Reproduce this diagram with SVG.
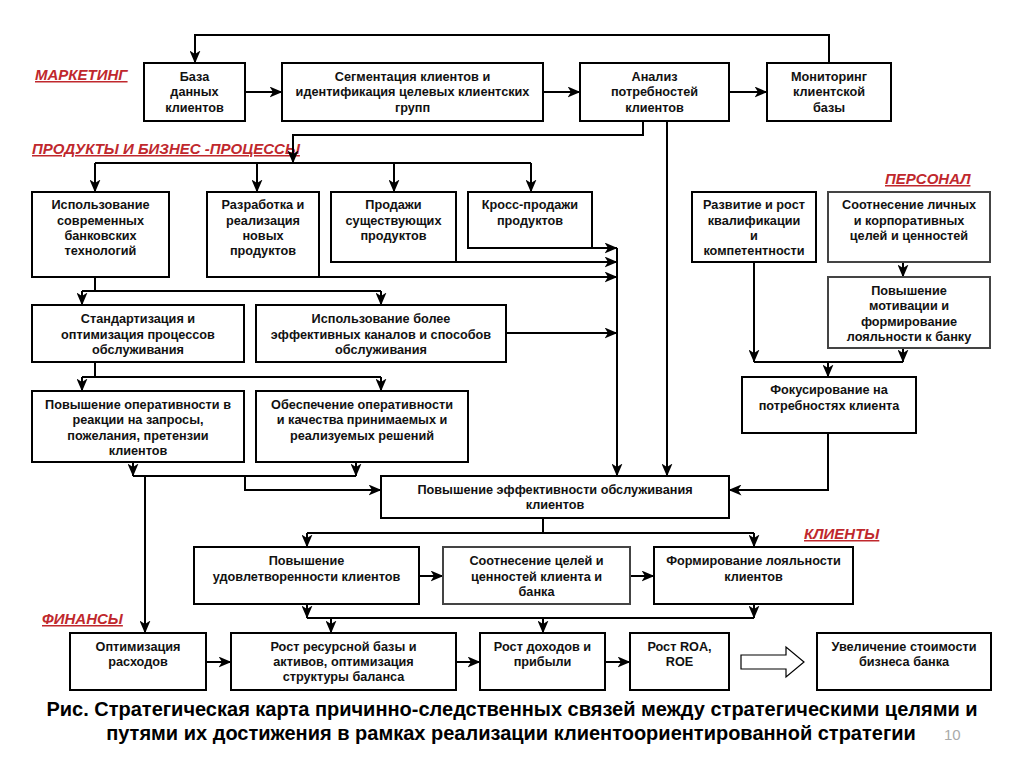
<svg xmlns="http://www.w3.org/2000/svg" width="1024" height="768" viewBox="0 0 1024 768">
<defs>
<marker id="ah" markerUnits="userSpaceOnUse" markerWidth="13" markerHeight="11" viewBox="0 0 13 11" refX="12.5" refY="5.5" orient="auto">
<path d="M0,0 L13,5.5 L0,11 L3.5,5.5 z" fill="#000"/>
</marker>
</defs>
<style>
rect.b{fill:#fff;stroke:#000;stroke-width:2}
rect.g{fill:#fff;stroke:#444;stroke-width:2}
text{font-family:"Liberation Sans",Arial,sans-serif;font-weight:bold;font-size:12.7px;fill:#111;text-anchor:middle}
text.lab{font-size:15px;font-style:italic;fill:#c0282d;text-decoration:underline;text-anchor:start}
text.cap{font-size:20px;fill:#000}
text.pg{font-size:15px;font-weight:normal;fill:#aaa;text-anchor:start}
#conn path{fill:none;stroke:#000;stroke-width:2}
#conn path.a{marker-end:url(#ah)}
</style>
<rect width="1024" height="768" fill="#fff"/>
<text class="lab" x="35" y="80">МАРКЕТИНГ</text>
<text class="lab" x="32" y="154">ПРОДУКТЫ И БИЗНЕС -ПРОЦЕССЫ</text>
<text class="lab" x="885" y="184">ПЕРСОНАЛ</text>
<text class="lab" x="804" y="539">КЛИЕНТЫ</text>
<text class="lab" x="42" y="624">ФИНАНСЫ</text>

<g id="conn">
<path class="a" d="M829,63 V35 H195 V63"/>
<path class="a" d="M245,92 H282"/>
<path class="a" d="M543,92 H580"/>
<path class="a" d="M729,92 H767"/>
<path class="a" d="M643,121 V135 H293 V163"/>
<path d="M95,163 H531"/>
<path class="a" d="M95,163 V192"/>
<path class="a" d="M257,163 V192"/>
<path class="a" d="M394,163 V192"/>
<path class="a" d="M531,163 V192"/>
<path class="a" d="M667,121 V476"/>
<path class="a" d="M592,248 H617"/>
<path class="a" d="M456,262 H617"/>
<path class="a" d="M319,277 H617"/>
<path class="a" d="M506,333 H617"/>
<path class="a" d="M617,248 V476"/>
<path d="M95,277 V291 M82,291 H381"/>
<path class="a" d="M82,291 V305"/>
<path class="a" d="M381,291 V305"/>
<path d="M95,362 V377 M82,377 H381"/>
<path class="a" d="M82,377 V391"/>
<path class="a" d="M381,377 V391"/>
<path class="a" d="M133,462 V476"/>
<path class="a" d="M356,462 V476"/>
<path d="M133,476 H356"/>
<path class="a" d="M145,476 V633"/>
<path class="a" d="M245,476 V490 H381"/>
<path class="a" d="M903,262 V277"/>
<path class="a" d="M754,262 V362"/>
<path class="a" d="M903,348 V362"/>
<path d="M754,362 H903"/>
<path class="a" d="M828,362 V377"/>
<path class="a" d="M828,433 V490 H729"/>
<path d="M543,518 V533 M307,533 H754"/>
<path class="a" d="M307,533 V547"/>
<path class="a" d="M754,533 V547"/>
<path class="a" d="M419,576 H443"/>
<path class="a" d="M630,576 H654"/>
<path class="a" d="M307,604 V618"/>
<path class="a" d="M754,604 V618"/>
<path d="M307,618 H754"/>
<path class="a" d="M331,618 V633"/>
<path class="a" d="M543,618 V633"/>
<path class="a" d="M206,662 H231"/>
<path class="a" d="M456,662 H480"/>
<path class="a" d="M605,662 H630"/>
</g>
<polygon points="741,655 786,655 786,647 804,662 786,677 786,669 741,669" fill="#fff" stroke="#000" stroke-width="1.2"/>

<g id="n1"><rect class="b" x="144" y="63" width="101" height="58"/><text x="194.5" y="81">База</text><text x="194.5" y="96">данных</text><text x="194.5" y="112">клиентов</text></g>
<g id="n2"><rect class="b" x="282" y="63" width="261" height="58"/><text x="412.5" y="81">Сегментация клиентов и</text><text x="412.5" y="96">идентификация целевых клиентских</text><text x="412.5" y="112">групп</text></g>
<g id="n3"><rect class="b" x="580" y="63" width="149" height="58"/><text x="654.5" y="81">Анализ</text><text x="654.5" y="96">потребностей</text><text x="654.5" y="112">клиентов</text></g>
<g id="n4"><rect class="b" x="767" y="63" width="124" height="58"/><text x="829" y="81">Мониторинг</text><text x="829" y="96">клиентской</text><text x="829" y="112">базы</text></g>

<g id="n5"><rect class="b" x="32" y="192" width="137" height="85"/><text x="100.5" y="209">Использование</text><text x="100.5" y="225">современных</text><text x="100.5" y="240">банковских</text><text x="100.5" y="255">технологий</text></g>
<g id="n6"><rect class="b" x="207" y="192" width="112" height="85"/><text x="263" y="209">Разработка и</text><text x="263" y="225">реализация</text><text x="263" y="240">новых</text><text x="263" y="255">продуктов</text></g>
<g id="n7"><rect class="b" x="331" y="192" width="125" height="70"/><text x="393.5" y="209">Продажи</text><text x="393.5" y="225">существующих</text><text x="393.5" y="240">продуктов</text></g>
<g id="n8"><rect class="b" x="468" y="192" width="124" height="56"/><text x="530" y="209">Кросс-продажи</text><text x="530" y="225">продуктов</text></g>

<g id="n9"><rect class="b" x="692" y="192" width="124" height="70"/><text x="754" y="209">Развитие и рост</text><text x="754" y="225">квалификации</text><text x="754" y="240">и</text><text x="754" y="255">компетентности</text></g>
<g id="n10"><rect class="g" x="828" y="192" width="162" height="70"/><text x="909" y="209">Соотнесение личных</text><text x="909" y="225">и корпоративных</text><text x="909" y="240">целей и ценностей</text></g>
<g id="n11"><rect class="g" x="828" y="277" width="162" height="71"/><text x="909" y="295">Повышение</text><text x="909" y="310">мотивации и</text><text x="909" y="326">формирование</text><text x="909" y="341">лояльности к банку</text></g>

<g id="n12"><rect class="b" x="32" y="305" width="212" height="57"/><text x="138" y="323">Стандартизация и</text><text x="138" y="339">оптимизация процессов</text><text x="138" y="354">обслуживания</text></g>
<g id="n13"><rect class="b" x="256" y="305" width="250" height="57"/><text x="381" y="323">Использование более</text><text x="381" y="339">эффективных каналов и способов</text><text x="381" y="354">обслуживания</text></g>

<g id="n14"><rect class="b" x="32" y="391" width="212" height="71"/><text x="138" y="409">Повышение оперативности в</text><text x="138" y="424">реакции на запросы,</text><text x="138" y="440">пожелания, претензии</text><text x="138" y="455">клиентов</text></g>
<g id="n15"><rect class="b" x="256" y="391" width="212" height="71"/><text x="362" y="409">Обеспечение оперативности</text><text x="362" y="424">и качества принимаемых и</text><text x="362" y="440">реализуемых решений</text></g>

<g id="n16"><rect class="b" x="742" y="377" width="174" height="56"/><text x="829" y="394">Фокусирование на</text><text x="829" y="410">потребностях клиента</text></g>

<g id="n17"><rect class="b" x="381" y="476" width="348" height="42"/><text x="555" y="494">Повышение эффективности обслуживания</text><text x="555" y="509">клиентов</text></g>

<g id="n18"><rect class="b" x="194" y="547" width="225" height="57"/><text x="306.5" y="565">Повышение</text><text x="306.5" y="581">удовлетворенности клиентов</text></g>
<g id="n19"><rect class="g" x="443" y="547" width="187" height="57"/><text x="536.5" y="565">Соотнесение целей и</text><text x="536.5" y="581">ценностей клиента и</text><text x="536.5" y="596">банка</text></g>
<g id="n20"><rect class="b" x="654" y="547" width="199" height="57"/><text x="753.5" y="565">Формирование лояльности</text><text x="753.5" y="581">клиентов</text></g>

<g id="n21"><rect class="b" x="70" y="633" width="136" height="57"/><text x="138" y="651">Оптимизация</text><text x="138" y="666">расходов</text></g>
<g id="n22"><rect class="b" x="231" y="633" width="225" height="57"/><text x="343.5" y="651">Рост ресурсной базы и</text><text x="343.5" y="666">активов, оптимизация</text><text x="343.5" y="681">структуры баланса</text></g>
<g id="n23"><rect class="b" x="480" y="633" width="125" height="57"/><text x="542.5" y="651">Рост доходов и</text><text x="542.5" y="666">прибыли</text></g>
<g id="n24"><rect class="b" x="630" y="633" width="99" height="57"/><text x="679.5" y="651">Рост ROA,</text><text x="679.5" y="666">ROE</text></g>
<g id="n25"><rect class="b" x="817" y="633" width="174" height="57"/><text x="904" y="651">Увеличение стоимости</text><text x="904" y="666">бизнеса банка</text></g>

<text class="cap" x="512" y="716">Рис. Стратегическая карта причинно-следственных связей между стратегическими целями и</text>
<text class="cap" x="511" y="740">путями их достижения в рамках реализации клиентоориентированной стратегии</text>
<text class="pg" x="944" y="740">10</text>
</svg>
